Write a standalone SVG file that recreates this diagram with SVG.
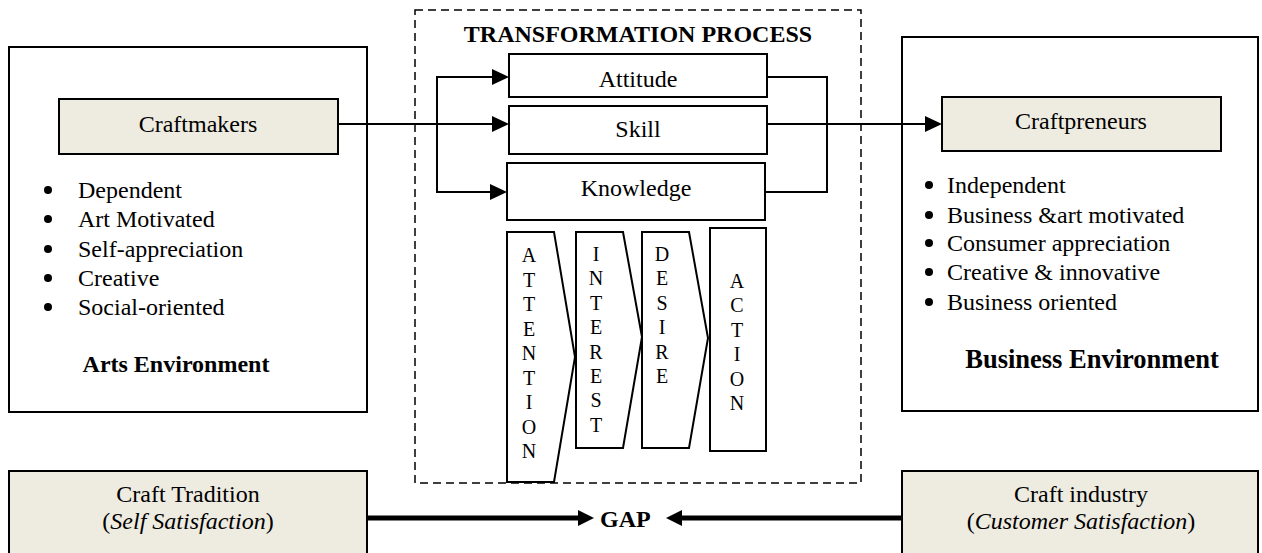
<svg xmlns="http://www.w3.org/2000/svg" width="1262" height="553" viewBox="0 0 1262 553">
<style>
text{font-family:"Liberation Serif","Times New Roman",serif;fill:#000}
.t{font-size:24px}
.c{text-anchor:middle}
.b{font-weight:bold}
.box{fill:#fff;stroke:#000;stroke-width:2}
.fill{fill:#EEEBE0;stroke:#000;stroke-width:2}
.l{font-size:20px;text-anchor:middle}
.con{fill:none;stroke:#000;stroke-width:2}
.thick{fill:none;stroke:#000;stroke-width:5}
.bul{fill:#000}
</style>
<defs>
<marker id="ah" markerWidth="17" markerHeight="16" refX="0" refY="8" orient="auto" markerUnits="userSpaceOnUse"><path d="M0,0 L17,8 L0,16 Z" fill="#000"/></marker>
<marker id="ahb" markerWidth="16" markerHeight="16" refX="0" refY="8" orient="auto" markerUnits="userSpaceOnUse"><path d="M0,0 L16,8 L0,16 Z" fill="#000"/></marker>
</defs>
<rect width="1262" height="553" fill="#fff"/>

<g id="transformation-process">
<rect x="415" y="10" width="446" height="473" fill="none" stroke="#000" stroke-width="1.5" stroke-dasharray="8,5"/>
<text class="t c b" x="638" y="42">TRANSFORMATION PROCESS</text>
</g>

<g id="arts-environment">
<rect class="box" x="9" y="47" width="358" height="365"/>
<circle class="bul" cx="48" cy="190" r="4"/><text class="t" x="78" y="198">Dependent</text>
<circle class="bul" cx="48" cy="219" r="4"/><text class="t" x="78" y="227">Art Motivated</text>
<circle class="bul" cx="48" cy="249" r="4"/><text class="t" x="78" y="257">Self-appreciation</text>
<circle class="bul" cx="48" cy="278" r="4"/><text class="t" x="78" y="286">Creative</text>
<circle class="bul" cx="48" cy="307" r="4"/><text class="t" x="78" y="315">Social-oriented</text>
<text class="t c b" x="176" y="372">Arts Environment</text>
</g>
<g id="craftmakers">
<rect class="fill" x="59" y="99" width="279" height="55"/>
<text class="t c" x="198" y="132">Craftmakers</text>
</g>

<g id="business-environment">
<rect class="box" x="902" y="37" width="356" height="374"/>
<circle class="bul" cx="929" cy="185" r="4"/><text class="t" x="947" y="193">Independent</text>
<circle class="bul" cx="929" cy="215" r="4"/><text class="t" x="947" y="223">Business &amp;art motivated</text>
<circle class="bul" cx="929" cy="243" r="4"/><text class="t" x="947" y="251">Consumer appreciation</text>
<circle class="bul" cx="929" cy="272" r="4"/><text class="t" x="947" y="280">Creative &amp; innovative</text>
<circle class="bul" cx="929" cy="302" r="4"/><text class="t" x="947" y="310">Business oriented</text>
<text class="b c" x="1092" y="368" font-size="26.5px">Business Environment</text>
</g>
<g id="craftpreneurs">
<rect class="fill" x="942" y="97" width="279" height="54"/>
<text class="t c" x="1081" y="129">Craftpreneurs</text>
</g>

<g id="attitude">
<rect class="box" x="509" y="54" width="258" height="43"/>
<text class="t c" x="638" y="87">Attitude</text>
</g>
<g id="skill">
<rect class="box" x="509" y="106" width="258" height="48"/>
<text class="t c" x="638" y="137">Skill</text>
</g>
<g id="knowledge">
<rect class="box" x="507" y="163" width="258" height="57"/>
<text class="t c" x="636" y="196">Knowledge</text>
</g>

<g id="attention">
<path class="box" d="M507,232 H554 L575,357 L554,482 H507 Z"/>
<text class="l" x="529" y="262">A</text><text class="l" x="529" y="286.5">T</text><text class="l" x="529" y="311">T</text><text class="l" x="529" y="335.5">E</text><text class="l" x="529" y="360">N</text><text class="l" x="529" y="384.5">T</text><text class="l" x="529" y="409">I</text><text class="l" x="529" y="433.5">O</text><text class="l" x="529" y="458">N</text>
</g>
<g id="interest">
<path class="box" d="M576,232 H623 L642,337 L623,448 H576 Z"/>
<text class="l" x="596" y="261">I</text><text class="l" x="596" y="285.4">N</text><text class="l" x="596" y="309.8">T</text><text class="l" x="596" y="334.2">E</text><text class="l" x="596" y="358.6">R</text><text class="l" x="596" y="383">E</text><text class="l" x="596" y="407.4">S</text><text class="l" x="596" y="431.8">T</text>
</g>
<g id="desire">
<path class="box" d="M642,232 H689 L708,338 L689,448 H642 Z"/>
<text class="l" x="662" y="261">D</text><text class="l" x="662" y="285.4">E</text><text class="l" x="662" y="309.8">S</text><text class="l" x="662" y="334.2">I</text><text class="l" x="662" y="358.6">R</text><text class="l" x="662" y="383">E</text>
</g>
<g id="action">
<rect class="box" x="710" y="228" width="56" height="223"/>
<text class="l" x="737" y="288">A</text><text class="l" x="737" y="312.4">C</text><text class="l" x="737" y="336.8">T</text><text class="l" x="737" y="361.2">I</text><text class="l" x="737" y="385.6">O</text><text class="l" x="737" y="410">N</text>
</g>

<g id="craft-tradition">
<rect class="fill" x="9" y="471" width="358" height="90"/>
<text class="t c" x="188" y="502">Craft Tradition</text>
<text class="t c" x="188" y="529">(<tspan font-style="italic">Self Satisfaction</tspan>)</text>
</g>
<g id="craft-industry">
<rect class="fill" x="902" y="471" width="356" height="90"/>
<text class="t c" x="1081" y="502">Craft industry</text>
<text class="t c" x="1081" y="529">(<tspan font-style="italic">Customer Satisfaction</tspan>)</text>
</g>
<g id="gap">
<text class="t b" x="600" y="527">GAP</text>
</g>

<g id="connectors">
<path class="con" d="M338,124 H492" marker-end="url(#ah)"/>
<path class="con" d="M437,124 V77 H492" marker-end="url(#ah)"/>
<path class="con" d="M437,124 V192 H490" marker-end="url(#ah)"/>
<path class="con" d="M767,77 H827 V192 H765"/>
<path class="con" d="M767,124 H925" marker-end="url(#ah)"/>
<path class="thick" d="M367,518 H578" marker-end="url(#ahb)"/>
<path class="thick" d="M902,518 H682" marker-end="url(#ahb)"/>
</g>
</svg>
